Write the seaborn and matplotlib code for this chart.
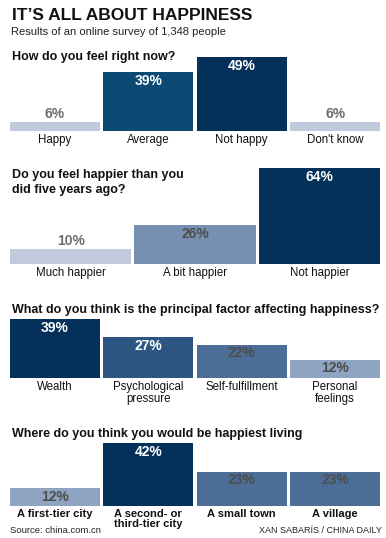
import matplotlib
matplotlib.use("Agg")
import matplotlib.pyplot as plt
import matplotlib.colors as mcolors
import seaborn as sns

# Datos de la encuesta
feel_cats = ["Happy", "Average", "Not happy", "Don't know"]
feel_vals = [6, 39, 49, 6]

five_cats = ["Much happier", "A bit happier", "Not happier"]
five_vals = [10, 26, 64]

factor_cats = ["Wealth", "Psychological\npressure", "Self-fulfillment", "Personal\nfeelings"]
factor_vals = [39, 27, 22, 12]

live_cats = ["A first-tier city", "A second- or\nthird-tier city", "A small town", "A village"]
live_vals = [12, 42, 23, 23]

# Colores
LIGHT = "#c1cadc"
NAVY = "#04305a"
feel_colors = [LIGHT, "#0b4a72", NAVY, LIGHT]
five_colors = [LIGHT, "#7790b2", NAVY]
factor_colors = [NAVY, "#2c5681", "#4b6d96", "#8fa3c2"]
live_colors = ["#8fa3c2", NAVY, "#4b6d96", "#4b6d96"]

sns.set_theme(style="white")
plt.rcParams['font.family'] = ['Liberation Sans', 'DejaVu Sans']

W, H = 386, 538
fig = plt.figure(figsize=(W / 100, H / 100), dpi=100, facecolor="white")

PX_PER_PCT = 1.5


def fx(x):
    return x / W


def fy(y):
    return 1 - y / H


def panel(cats, vals, colors, baseline, gap, bold_labels=False, linespacing=1.0):
    n = len(cats)
    # ancho de barra para dejar 'gap' pixeles entre barras
    w = (370 - gap * (n - 1)) / (370 + gap)
    ax = fig.add_axes([fx(10), fy(baseline), 370 / W, PX_PER_PCT * max(vals) / H])
    sns.barplot(x=cats, y=vals, hue=cats, palette=colors, width=w, saturation=1,
                legend=False, ax=ax, linewidth=0)
    ax.set_xlim(-w / 2, n - 1 + w / 2)
    ax.set_ylim(0, max(vals))
    ax.set_yticks([])
    ax.set_ylabel("")
    sns.despine(ax=ax, left=True, bottom=True)
    ax.tick_params(axis="x", length=0, pad=2.5)
    ax.set_xticks(range(n))
    ax.set_xticklabels(cats, fontsize=8 if bold_labels else 8.3,
                       fontweight="bold" if bold_labels else "normal",
                       color="#111111", linespacing=linespacing)
    for i, (v, c) in enumerate(zip(vals, colors)):
        if v <= 10:
            off, col = 5.5, "#6d6d6d"
        else:
            off = -6.2
            col = "white" if sum(mcolors.to_rgb(c)) / 3 < 0.4 else "#4d4d4d"
        ax.annotate(f"{v}%", (i, v), xytext=(0, off), textcoords="offset points",
                    ha="center", va="center", fontsize=10, fontweight="bold", color=col)
    return ax


# Titulos
fig.text(fx(12), fy(20), "IT\u2019S ALL ABOUT HAPPINESS", fontsize=12.5, fontweight="bold",
         color="#111111", va="baseline", ha="left")
fig.text(fx(11), fy(34.7), "Results of an online survey of 1,348 people", fontsize=8,
         color="#222222", va="baseline", ha="left")

# Panel 1
fig.text(fx(12), fy(60), "How do you feel right now?", fontsize=9, fontweight="bold",
         color="#111111", va="baseline")
panel(feel_cats, feel_vals, feel_colors, 130.5, 3.5)

# Panel 2
fig.text(fx(12), fy(178.3), "Do you feel happier than you", fontsize=9,
         fontweight="bold", color="#111111", va="baseline")
fig.text(fx(12), fy(193.3), "did five years ago?", fontsize=9,
         fontweight="bold", color="#111111", va="baseline")
panel(five_cats, five_vals, five_colors, 264, 3)

# Panel 3
fig.text(fx(12), fy(313.3), "What do you think is the principal factor affecting happiness?",
         fontsize=9, fontweight="bold", color="#111111", va="baseline")
panel(factor_cats, factor_vals, factor_colors, 377.7, 3.5, linespacing=0.95)

# Panel 4
fig.text(fx(12), fy(436.7), "Where do you think you would be happiest living", fontsize=9,
         fontweight="bold", color="#111111", va="baseline")
panel(live_cats, live_vals, live_colors, 506, 3.5, bold_labels=True, linespacing=1.0)

# Fuente
fig.text(fx(10), fy(533.3), "Source: china.com.cn", fontsize=6.8, color="#222222",
         va="baseline", ha="left")
fig.text(fx(382), fy(533.3), "XAN SABAR\u00cdS / CHINA DAILY", fontsize=6.5, color="#222222",
         va="baseline", ha="right")

fig.savefig("out.png", dpi=100, facecolor="white")
